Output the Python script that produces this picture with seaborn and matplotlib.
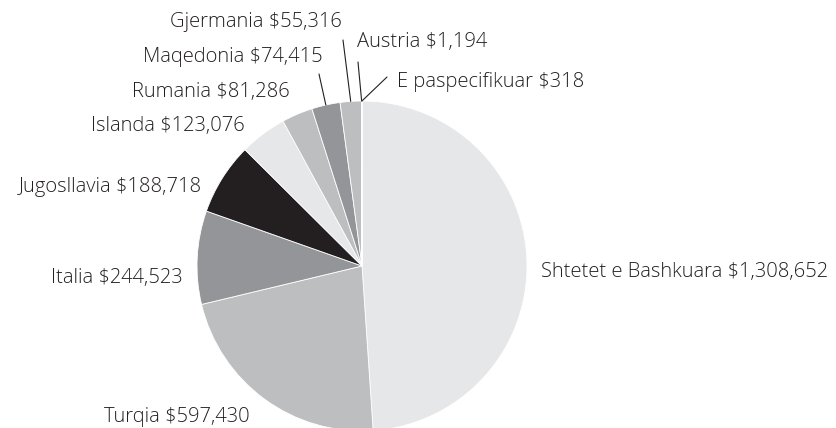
import numpy as np
import matplotlib
matplotlib.use("Agg")
import matplotlib.pyplot as plt
import seaborn as sns

# data
countries = ["Shtetet e Bashkuara", "Turqia", "Italia", "Jugosllavia", "Islanda",
             "Rumania", "Maqedonia", "Gjermania", "Austria", "E paspecifikuar"]
values = [1308652, 597430, 244523, 188718, 123076, 81286, 74415, 55316, 1194, 318]
labels = [f"{c} ${v:,}" for c, v in zip(countries, values)]

# greys of the original, in slice order
grey_light, grey_mid, grey_dark, near_black = "#e6e7e8", "#bcbec0", "#939598", "#231f20"
slice_colors = [grey_light, grey_mid, grey_dark, near_black, grey_light,
                grey_mid, grey_dark, grey_mid, grey_dark, grey_light]

sns.set_theme(style="white")
plt.rcParams["font.family"] = ["Open Sans", "DejaVu Sans"]

W, H = 836, 428
fig = plt.figure(figsize=(W / 100, H / 100), dpi=100)
ax = fig.add_axes([0, 0, 1, 1])

cx, cy, r = 362, H - 266, 165
wedges, _ = ax.pie(values, colors=slice_colors, startangle=90, counterclock=False,
                   center=(cx, cy), radius=r,
                   wedgeprops=dict(edgecolor="white", linewidth=0.6))
ax.set_xlim(0, W)
ax.set_ylim(0, H)
ax.set_aspect("auto")
ax.axis("off")

# label placement (pixel coords from top-left): x, y, alignment, leader line start
label_pos = {
    "Shtetet e Bashkuara": (541, 272, "left", None),
    "Turqia": (250, 417, "right", None),
    "Italia": (183, 278, "right", None),
    "Jugosllavia": (202, 187, "right", None),
    "Islanda": (245, 126, "right", None),
    "Rumania": (290, 92, "right", None),
    "Maqedonia": (323, 57, "right", (319, 74)),
    "Gjermania": (342, 22, "right", (343, 40)),
    "Austria": (357, 42, "left", (358, 62)),
    "E paspecifikuar": (397, 82, "left", (387, 77)),
}

txt_color = "#231f20"
for w, c, lab in zip(wedges, countries, labels):
    x, y, ha, lead = label_pos[c]
    ax.text(x, H - y, lab, ha=ha, va="center", fontsize=14.5, fontweight="light",
            color=txt_color)
    if lead is not None:
        mid = np.deg2rad((w.theta1 + w.theta2) / 2)
        ex, ey = cx + r * np.cos(mid), cy + r * np.sin(mid)
        ax.plot([lead[0], ex], [H - lead[1], ey], color=txt_color, lw=0.8)

fig.savefig("out.png", dpi=100, facecolor="white")
